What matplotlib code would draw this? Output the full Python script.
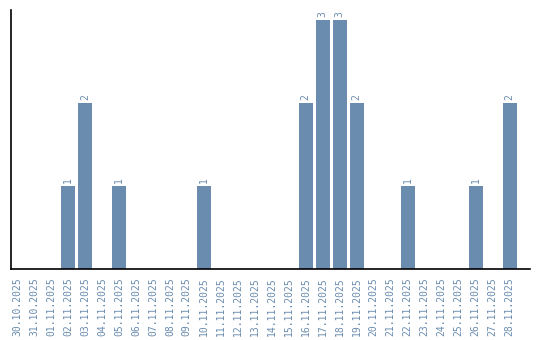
import matplotlib
matplotlib.use("Agg")
import matplotlib.pyplot as plt

dates = ["30.10.2025", "31.10.2025", "01.11.2025", "02.11.2025", "03.11.2025",
         "04.11.2025", "05.11.2025", "06.11.2025", "07.11.2025", "08.11.2025",
         "09.11.2025", "10.11.2025", "11.11.2025", "12.11.2025", "13.11.2025",
         "14.11.2025", "15.11.2025", "16.11.2025", "17.11.2025", "18.11.2025",
         "19.11.2025", "20.11.2025", "21.11.2025", "22.11.2025", "23.11.2025",
         "24.11.2025", "25.11.2025", "26.11.2025", "27.11.2025", "28.11.2025"]
counts = [0, 0, 0, 1, 2, 0, 1, 0, 0, 0, 0, 1, 0, 0, 0, 0, 0, 2, 3, 3,
          2, 0, 0, 1, 0, 0, 0, 1, 0, 2]

color = "#6a8caf"
fig = plt.figure(figsize=(5.4, 3.4), dpi=100)
ax = fig.add_axes([0.0204, 0.2088, 0.9606, 0.7618])
x = list(range(len(dates)))
ax.bar(x, counts, width=0.82, color=color)
for xi, v in zip(x, counts):
    if v > 0:
        ax.text(xi, v + 0.04, str(v), rotation=90, ha="center", va="bottom",
                color=color, fontsize=7, family="DejaVu Sans Mono")
ax.set_xlim(-0.35, 30.18)
ax.set_ylim(0, 3.12)
ax.set_xticks(x)
ax.set_xticklabels(dates, rotation=90, color=color, fontsize=7, family="DejaVu Sans Mono")
ax.tick_params(axis="x", length=0, pad=6)
ax.set_yticks([])
for s in ["top", "right"]:
    ax.spines[s].set_visible(False)
ax.spines["left"].set_linewidth(1.2)
ax.spines["bottom"].set_linewidth(1.2)
fig.savefig("out.png", dpi=100)
